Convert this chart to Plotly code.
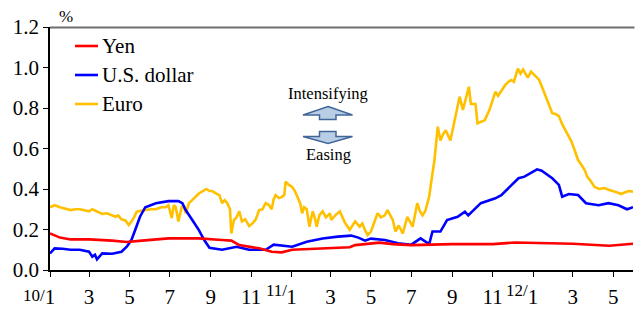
import plotly.graph_objects as go

# ---------------- data ----------------
euro_dates = ["2010-01-01","2010-01-08","2010-01-16","2010-01-25","2010-02-01","2010-02-08","2010-02-15","2010-02-22",
"2010-03-01","2010-03-06","2010-03-13","2010-03-21","2010-03-28","2010-04-05","2010-04-10","2010-04-14","2010-04-19",
"2010-04-25","2010-04-30","2010-05-04","2010-05-08","2010-05-12","2010-05-18","2010-05-25","2010-06-03","2010-06-10",
"2010-06-18","2010-06-25","2010-06-29","2010-07-04","2010-07-07","2010-07-10","2010-07-14","2010-07-19","2010-07-22",
"2010-07-25","2010-07-30","2010-08-04","2010-08-09","2010-08-14","2010-08-20","2010-08-25","2010-08-30","2010-09-03",
"2010-09-08","2010-09-14","2010-09-18","2010-09-22","2010-09-26","2010-09-30","2010-10-02","2010-10-06","2010-10-10",
"2010-10-14","2010-10-18","2010-10-23","2010-10-29","2010-11-03","2010-11-08","2010-11-13","2010-11-18","2010-11-23",
"2010-11-28","2010-12-02","2010-12-05","2010-12-08","2010-12-13","2010-12-17","2010-12-21","2010-12-23","2010-12-28",
"2011-01-02","2011-01-06","2011-01-10","2011-01-14","2011-01-17","2011-01-20","2011-01-24","2011-01-28","2011-02-02",
"2011-02-05","2011-02-08","2011-02-12","2011-02-17","2011-02-22","2011-02-28","2011-03-02","2011-03-08","2011-03-15",
"2011-03-19","2011-03-23","2011-03-30","2011-04-03","2011-04-07","2011-04-14","2011-04-18","2011-04-22","2011-04-26",
"2011-05-01","2011-05-04","2011-05-11","2011-05-16","2011-05-22","2011-05-26","2011-06-03","2011-06-07","2011-06-12",
"2011-06-18","2011-06-25","2011-07-03","2011-07-10","2011-07-14","2011-07-18","2011-07-22","2011-07-28","2011-07-30",
"2011-08-05","2011-08-10","2011-08-14","2011-08-18","2011-08-22","2011-08-29","2011-09-05","2011-09-12","2011-09-17",
"2011-09-22","2011-09-26","2011-09-29","2011-10-06","2011-10-09","2011-10-14","2011-10-20","2011-10-27","2011-11-02",
"2011-11-05","2011-11-09","2011-11-15","2011-11-20","2011-11-25","2011-11-29","2011-12-03","2011-12-09","2011-12-13",
"2011-12-17","2011-12-24","2011-12-29","2012-01-04","2012-01-10","2012-01-15","2012-01-20","2012-01-25","2012-01-30",
"2012-02-04","2012-02-09","2012-02-14","2012-02-19","2012-02-24","2012-02-28","2012-03-04","2012-03-09","2012-03-14",
"2012-03-19","2012-03-23","2012-03-27","2012-04-03","2012-04-10","2012-04-18","2012-04-25","2012-05-04","2012-05-10",
"2012-05-13","2012-05-20","2012-05-25","2012-05-31"]
euro_vals = [0.31,0.32,0.31,0.30,0.296,0.30,0.30,0.295,
0.29,0.30,0.29,0.277,0.28,0.27,0.263,0.27,0.25,
0.245,0.222,0.24,0.26,0.288,0.29,0.296,0.30,0.30,
0.31,0.31,0.32,0.256,0.32,0.31,0.24,0.31,0.32,
0.28,0.33,0.345,0.36,0.378,0.39,0.40,0.39,0.39,
0.38,0.37,0.33,0.345,0.33,0.30,0.18,0.247,0.26,
0.29,0.24,0.25,0.217,0.23,0.25,0.296,0.30,0.33,
0.32,0.30,0.35,0.37,0.355,0.36,0.37,0.436,0.42,
0.41,0.39,0.36,0.33,0.28,0.31,0.30,0.214,0.29,
0.26,0.214,0.27,0.29,0.26,0.28,0.247,0.27,0.29,
0.26,0.232,0.198,0.22,0.24,0.214,0.23,0.198,0.173,
0.19,0.22,0.28,0.26,0.27,0.296,0.247,0.19,0.22,
0.18,0.263,0.214,0.33,0.29,0.27,0.29,0.362,0.41,
0.543,0.708,0.64,0.67,0.69,0.64,0.74,0.856,0.79,
0.86,0.905,0.82,0.82,0.724,0.73,0.74,0.79,0.85,
0.88,0.86,0.89,0.914,0.93,0.938,0.93,0.995,0.97,
0.99,0.95,0.98,0.96,0.94,0.90,0.856,0.81,0.774,
0.77,0.76,0.72,0.69,0.66,0.634,0.59,0.543,0.52,
0.494,0.46,0.444,0.41,0.40,0.405,0.395,0.387,0.38,
0.375,0.385,0.39,0.387]

usd_dates = ["2010-01-01","2010-01-08","2010-01-20","2010-02-01","2010-02-15","2010-03-01","2010-03-06","2010-03-10",
"2010-03-13","2010-03-21","2010-04-05","2010-04-19","2010-04-27","2010-05-04","2010-05-10","2010-05-17","2010-05-25",
"2010-06-10","2010-06-29","2010-07-14","2010-07-20","2010-07-25","2010-08-04","2010-08-14","2010-08-22","2010-08-30",
"2010-09-18","2010-10-10","2010-10-29","2010-11-23","2010-12-05","2010-12-28","2011-01-02","2011-01-24","2011-02-17",
"2011-03-12","2011-04-01","2011-04-12","2011-04-22","2011-05-01","2011-05-22","2011-06-11","2011-06-25","2011-07-01",
"2011-07-15","2011-07-28","2011-08-02","2011-08-14","2011-08-24","2011-09-09","2011-09-20","2011-09-25","2011-10-14",
"2011-11-05","2011-11-14","2011-11-25","2011-12-10","2011-12-19","2012-01-07","2012-01-14","2012-01-30","2012-02-09",
"2012-02-14","2012-02-24","2012-03-09","2012-03-21","2012-04-09","2012-04-24","2012-05-09","2012-05-22","2012-05-31"]
usd_vals = [0.082,0.107,0.105,0.10,0.10,0.09,0.066,0.075,
0.053,0.082,0.08,0.09,0.115,0.148,0.20,0.263,0.31,
0.33,0.34,0.34,0.33,0.296,0.247,0.197,0.148,0.11,
0.10,0.115,0.10,0.10,0.125,0.118,0.115,0.14,0.156,
0.165,0.17,0.16,0.145,0.155,0.148,0.132,0.125,0.125,
0.156,0.128,0.19,0.19,0.247,0.263,0.288,0.27,0.33,
0.354,0.37,0.403,0.453,0.461,0.497,0.49,0.453,0.42,
0.362,0.375,0.37,0.33,0.32,0.33,0.32,0.30,0.31]

yen_dates = ["2010-01-01","2010-01-16","2010-02-01","2010-03-01","2010-04-05","2010-04-27","2010-05-20","2010-06-29",
"2010-07-14","2010-08-14","2010-09-18","2010-10-02","2010-10-14","2010-11-13","2010-12-02","2010-12-17","2011-01-02",
"2011-02-17","2011-03-30","2011-04-07","2011-05-14","2011-06-03","2011-07-01","2011-09-01","2011-11-01","2011-12-05",
"2012-01-10","2012-03-01","2012-04-25","2012-05-31"]
yen_vals = [0.181,0.16,0.151,0.151,0.145,0.138,0.145,0.156,
0.156,0.156,0.148,0.145,0.123,0.107,0.09,0.087,0.10,
0.107,0.112,0.123,0.135,0.128,0.123,0.128,0.128,0.136,
0.132,0.13,0.12,0.13]

series_names = ["Yen", "U.S. dollar", "Euro"]
series_colors = ["#ff0000", "#0000ff", "#ffc000"]

tick_dates = ["2010-01-01","2010-03-01","2010-05-01","2010-07-01","2010-09-01","2010-11-01",
              "2011-01-01","2011-03-01","2011-05-01","2011-07-01","2011-09-01","2011-11-01",
              "2012-01-01","2012-03-01","2012-05-01"]
tick_labels = ["1","3","5","7","9","11","1","3","5","7","9","11","1","3","5"]
year_prefix_dates = ["2010-01-01", "2011-01-01", "2012-01-01"]
year_prefixes = ["10/", "11/", "12/"]

y_ticks = [0.0, 0.2, 0.4, 0.6, 0.8, 1.0, 1.2]

# ---------------- figure ----------------
W, H = 635, 309
L, R, T, B = 50, 2, 27, 39
PW, PH = W - L - R, H - T - B
FONT = "Times New Roman"

def px(x):
    return (x - L) / PW

def py(y):
    return (H - B - y) / PH

fig = go.Figure()
order = [(euro_dates, euro_vals, 2), (usd_dates, usd_vals, 1), (yen_dates, yen_vals, 0)]
for d, v, i in order:
    fig.add_trace(go.Scatter(x=d, y=v, mode="lines", name=series_names[i],
                             line=dict(color=series_colors[i], width=2.6), showlegend=False))

shapes = []
annotations = []

# top border line (extends to the right edge of the picture)
shapes.append(dict(type="line", xref="paper", yref="paper", x0=0, x1=(W - L - 0.5) / PW,
                   y0=py(27.5), y1=py(27.5), layer="above", line=dict(color="#6e6e6e", width=2)))

# manual legend
leg_y = [46, 75, 104]
for i, name in enumerate(series_names):
    shapes.append(dict(type="line", xref="paper", yref="paper", x0=px(75), x1=px(98),
                       y0=py(leg_y[i]), y1=py(leg_y[i]), line=dict(color=series_colors[i], width=2.6)))
    annotations.append(dict(x=px(100), y=py(leg_y[i]), xref="paper", yref="paper", text=name,
                            showarrow=False, xanchor="left", yanchor="middle",
                            font=dict(family=FONT, size=21, color="#000")))

def path(points):
    return "M " + " L ".join(f"{px(a):.5f},{py(b):.5f}" for a, b in points) + " Z"

up = [(328, 106.5), (352.5, 115), (336, 115), (336, 119.5), (319.5, 119.5), (319.5, 115), (303, 115)]
down = [(319.5, 131.5), (336, 131.5), (336, 136.5), (352.5, 136.5), (328, 143.5), (303, 136.5), (319.5, 136.5)]
for pts in (up, down):
    shapes.append(dict(type="path", xref="paper", yref="paper", path=path(pts),
                       fillcolor="#b9cde5", line=dict(color="#41679a", width=1.5)))

annotations.append(dict(x=px(328), y=py(94), xref="paper", yref="paper", text="Intensifying",
                        showarrow=False, xanchor="center", yanchor="middle",
                        font=dict(family=FONT, size=16.5, color="#000")))
annotations.append(dict(x=px(328), y=py(154), xref="paper", yref="paper", text="Easing",
                        showarrow=False, xanchor="center", yanchor="middle",
                        font=dict(family=FONT, size=16.5, color="#000")))
annotations.append(dict(x=px(57), y=py(17), xref="paper", yref="paper", text="%",
                        showarrow=False, xanchor="left", yanchor="middle",
                        font=dict(family=FONT, size=17, color="#000")))

prefix_y = [295, 290, 290]
for d, t, yy in zip(year_prefix_dates, year_prefixes, prefix_y):
    annotations.append(dict(x=d, y=py(yy), xref="x", yref="paper", text=t, showarrow=False,
                            xanchor="right", yanchor="middle", xshift=-3,
                            font=dict(family=FONT, size=17, color="#000")))

fig.update_layout(
    width=W, height=H, margin=dict(l=L, r=R, t=T, b=B, autoexpand=False),
    paper_bgcolor="white", plot_bgcolor="white",
    font=dict(family=FONT, size=21, color="#000"),
    shapes=shapes, annotations=annotations, showlegend=False,
    xaxis=dict(type="date", range=["2010-01-01", "2012-05-31"], tickmode="array",
               tickvals=tick_dates, ticktext=tick_labels, ticks="outside", ticklen=5,
               tickcolor="#000", showline=True, linecolor="#000", linewidth=1.5,
               showgrid=False, zeroline=False, automargin=False, ticklabelstandoff=2,
               tickfont=dict(family=FONT, size=21, color="#000")),
    yaxis=dict(range=[0, 1.2], tickvals=y_ticks, tickformat=".1f", ticks="outside",
               ticklen=5, tickcolor="#000", showline=True, linecolor="#000", linewidth=1.5,
               showgrid=False, zeroline=False, automargin=False,
               tickfont=dict(family=FONT, size=21, color="#000")),
)

fig.write_html("out.html", config={"displayModeBar": False},
               post_script="document.body.style.margin='0';document.body.style.padding='0';")
